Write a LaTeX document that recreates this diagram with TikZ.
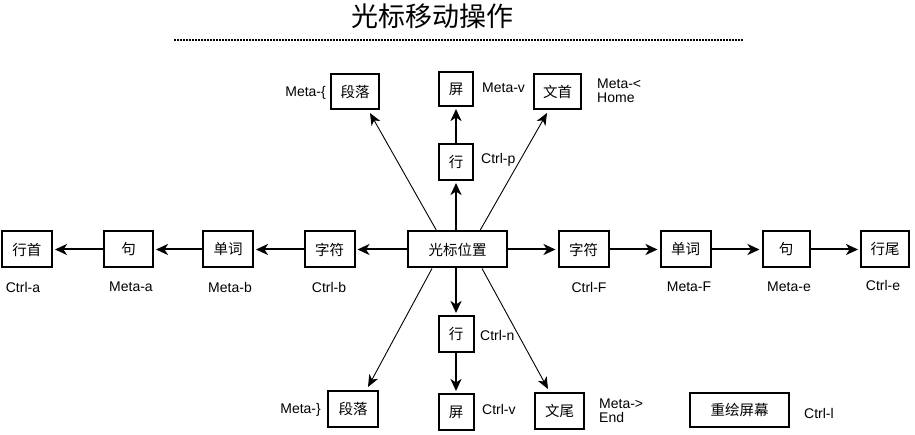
\documentclass[tikz,border=0pt]{standalone}
\usepackage{fontspec}
\setmainfont{Liberation Sans}
\newfontfamily\cjk{Noto Sans CJK SC}
\usetikzlibrary{arrows.meta,calc}
\begin{document}
\begin{tikzpicture}[x=1pt,y=-1pt,
  box/.style={draw, line width=2pt, inner sep=0pt, minimum height=36pt, font=\cjk\fontsize{14.5}{16}\selectfont},
  lbl/.style={font=\fontsize{14}{14.5}\selectfont, inner sep=0pt},
  arr/.style={line width=2pt, shorten >=2pt, -{Stealth[length=12pt,width=11pt,inset=3.5pt]}},
  darr/.style={line width=0.9pt, -{Stealth[length=12pt,width=10pt,inset=3.5pt]}}]
\useasboundingbox (0,0) rectangle (915,435);
% title
\node[font=\cjk\fontsize{27}{30}\selectfont, inner sep=0pt] (title) at (432,16) {光标移动操作};
\draw[line width=2pt, dash pattern=on 1.5pt off 1.5pt] (174,40) -- (743,40);
% center
\node[box, minimum width=99pt] (c) at (457.5,249.5) {光标位置};
% left row
\node[box, minimum width=50pt] (lc) at (329.5,249.5) {字符};
\node[box, minimum width=50pt] (lw) at (228,249.5) {单词};
\node[box, minimum width=49pt] (ls) at (128.5,249.5) {句};
\node[box, minimum width=50pt] (lh) at (27,249.5) {行首};
% right row
\node[box, minimum width=50pt] (rc) at (583.5,249.5) {字符};
\node[box, minimum width=50pt] (rw) at (685.5,249.5) {单词};
\node[box, minimum width=47pt] (rs) at (786,249.5) {句};
\node[box, minimum width=48pt] (re) at (885,249.5) {行尾};
% top
\node[box, minimum width=34pt] (tl) at (456,162) {行};
\node[box, minimum width=34pt, minimum height=34pt] (ts) at (456,89) {屏};
\node[box, minimum width=48pt, minimum height=35pt] (tp) at (355,91.5) {段落};
\node[box, minimum width=47pt, minimum height=35pt] (td) at (557.5,91.5) {文首};
% bottom
\node[box, minimum width=35pt] (bl) at (456,334) {行};
\node[box, minimum width=35pt] (bs) at (456,412) {屏};
\node[box, minimum width=50pt] (bp) at (353,409) {段落};
\node[box, minimum width=49pt] (bd) at (559.5,411) {文尾};
\node[box, minimum width=99pt, minimum height=34pt] (rd) at (739.5,410) {重绘屏幕};
% arrows horizontal
\draw[arr] (c) -- (lc);
\draw[arr] (lc) -- (lw);
\draw[arr] (lw) -- (ls);
\draw[arr] (ls) -- (lh);
\draw[arr] (c) -- (rc);
\draw[arr] (rc) -- (rw);
\draw[arr] (rw) -- (rs);
\draw[arr] (rs) -- (re);
% vertical
\draw[arr] (c.north -| tl) -- (tl);
\draw[arr] (tl) -- (ts);
\draw[arr] (c.south -| bl) -- (bl);
\draw[arr] (bl) -- (bs);
% diagonals
\draw[darr] ($(c.north)+(-21,0)$) -- ($(tp.south)+(15,3)$);
\draw[darr] ($(c.north)+(22.5,0)$) -- ($(td.south)+(-10.5,3)$);
\draw[darr] ($(c.south)+(-25.5,0)$) -- ($(bp.north)+(15,-3)$);
\draw[darr] ($(c.south)+(24.5,0)$) -- ($(bd.north)+(-11.5,-3)$);
% labels
\node[lbl] (la1) at (23,287) {Ctrl-a};
\node[lbl] (la2) at (131,287) {Meta-a};
\node[lbl] (la3) at (230,287) {Meta-b};
\node[lbl] (la4) at (329,287) {Ctrl-b};
\node[lbl] (lb1) at (589,287) {Ctrl-F};
\node[lbl] (lb2) at (689,287) {Meta-F};
\node[lbl] (lb3) at (789,287) {Meta-e};
\node[lbl] (lb4) at (883,285) {Ctrl-e};
\node[lbl, anchor=east] (lt1) at (326,93) {Meta-\{};
\node[lbl, anchor=west] (lt2) at (482,88) {Meta-v};
\node[lbl, anchor=west, align=left] (lt3) at (597,91) {Meta-<\\Home};
\node[lbl, anchor=west] (lt4) at (481,160) {Ctrl-p};
\node[lbl, anchor=west] (lu1) at (480,335) {Ctrl-n};
\node[lbl, anchor=east] (lu2) at (321,410) {Meta-\}};
\node[lbl, anchor=west] (lu3) at (482,409) {Ctrl-v};
\node[lbl, anchor=west, align=left] (lu4) at (599,411) {Meta->\\End};
\node[lbl, anchor=west] (lu5) at (804,413) {Ctrl-l};
\end{tikzpicture}
\end{document}
